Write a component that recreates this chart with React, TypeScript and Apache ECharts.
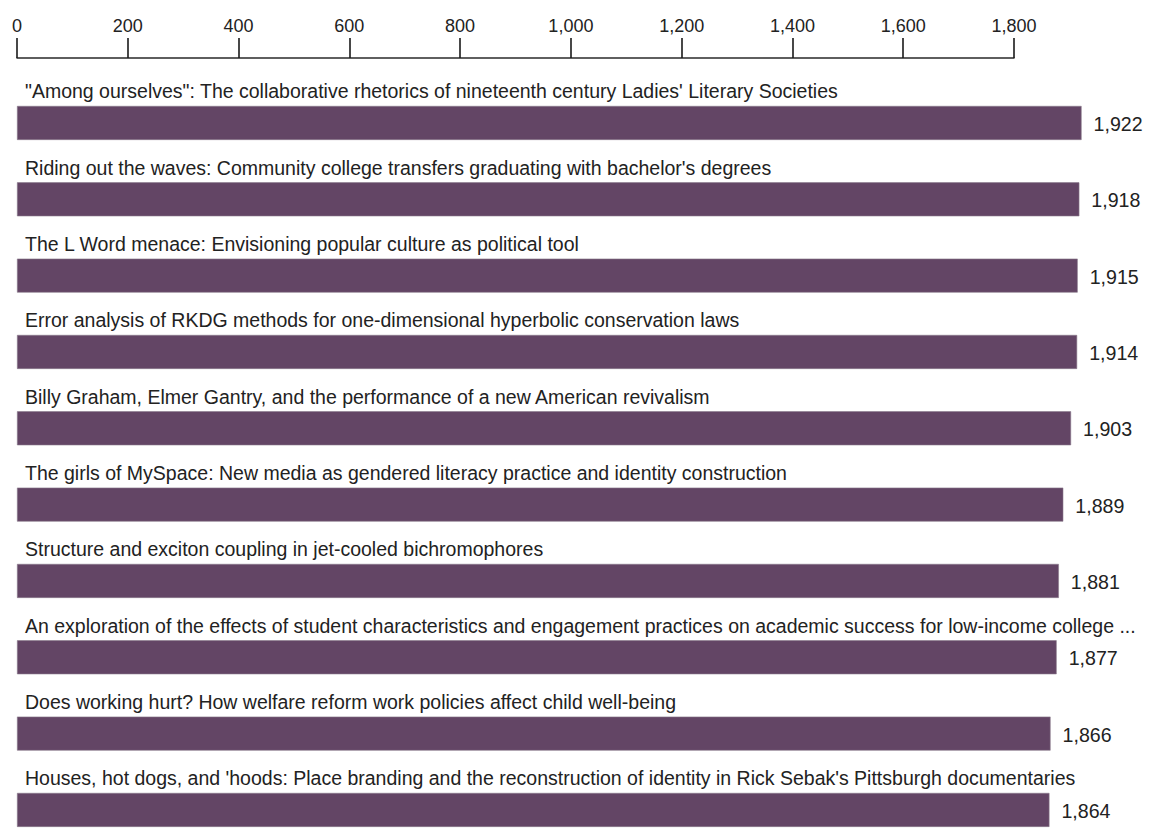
import React, { useEffect, useRef } from "react";
import * as echarts from "echarts";

const categories: string[] = [
  "\"Among ourselves\": The collaborative rhetorics of nineteenth century Ladies' Literary Societies",
  "Riding out the waves: Community college transfers graduating with bachelor's degrees",
  "The L Word menace: Envisioning popular culture as political tool",
  "Error analysis of RKDG methods for one-dimensional hyperbolic conservation laws",
  "Billy Graham, Elmer Gantry, and the performance of a new American revivalism",
  "The girls of MySpace: New media as gendered literacy practice and identity construction",
  "Structure and exciton coupling in jet-cooled bichromophores",
  "An exploration of the effects of student characteristics and engagement practices on academic success for low-income college ...",
  "Does working hurt? How welfare reform work policies affect child well-being",
  "Houses, hot dogs, and 'hoods: Place branding and the reconstruction of identity in Rick Sebak's Pittsburgh documentaries",
];

const values: number[] = [1922, 1918, 1915, 1914, 1903, 1889, 1881, 1877, 1866, 1864];

const axisMin = 0;
const axisMax = 1800;
const axisInterval = 200;

const FONT = "Arial, 'Liberation Sans', sans-serif";

export default function App() {
  const ref = useRef<HTMLDivElement>(null);

  useEffect(() => {
    document.body.style.margin = "0";
    if (!ref.current) return;
    const chart = echarts.init(ref.current, null, { renderer: "svg" });
    chart.setOption({
      animation: false,
      backgroundColor: "#ffffff",
      grid: { left: 17, right: 139, top: 84.8, bottom: 1.9, containLabel: false },
      xAxis: {
        type: "value",
        position: "top",
        min: axisMin,
        max: axisMax,
        interval: axisInterval,
        offset: 26.8,
        axisLine: { show: true, lineStyle: { color: "#2a2a2a", width: 1.5 } },
        axisTick: { show: true, length: 20, lineStyle: { color: "#1a1a1a", width: 1.6 } },
        splitLine: { show: false },
        axisLabel: {
          color: "#222222",
          fontSize: 18,
          fontFamily: FONT,
          margin: 23,
          formatter: (v: number) => v.toLocaleString("en-US"),
        },
      },
      yAxis: {
        type: "category",
        data: categories,
        inverse: true,
        axisLine: { show: false },
        axisTick: { show: false },
        axisLabel: { show: false },
        splitLine: { show: false },
      },
      series: [
        {
          type: "bar",
          data: values,
          barWidth: 34,
          clip: false,
          itemStyle: { color: "#634565", borderColor: "#8a7a8b", borderWidth: 0.6 },
          label: {
            show: true,
            position: [8, -24.5],
            formatter: "{b}",
            color: "#222222",
            fontSize: 19.5,
            fontFamily: FONT,
          },
        },
        {
          type: "bar",
          data: values,
          barWidth: 34,
          barGap: "-100%",
          clip: false,
          silent: true,
          itemStyle: { color: "rgba(0,0,0,0)" },
          label: {
            show: true,
            position: "right",
            distance: 12,
            offset: [0, 1],
            formatter: (p: any) => Number(p.value).toLocaleString("en-US"),
            color: "#222222",
            fontSize: 19.6,
            fontFamily: FONT,
          },
        },
      ],
    });
    return () => chart.dispose();
  }, []);

  return (
    <div style={{ position: "absolute", left: 0, top: 0, width: 1153, height: 830, overflow: "hidden" }}>
      <div ref={ref} style={{ width: 1153, height: 850 }} />
    </div>
  );
}
